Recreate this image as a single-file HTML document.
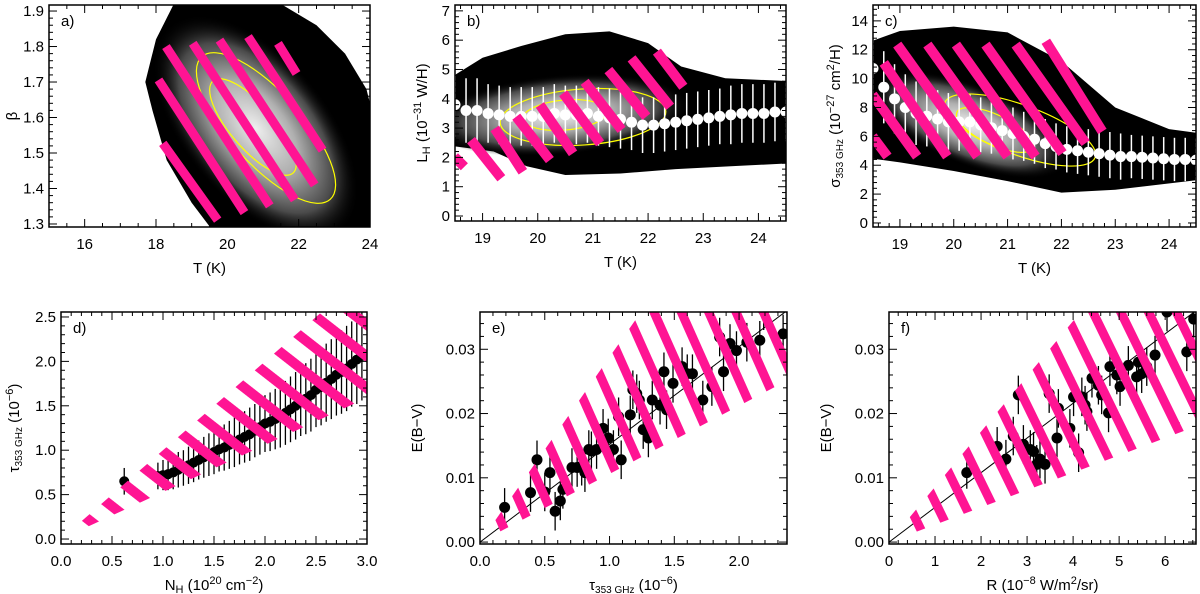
<!DOCTYPE html>
<html><head><meta charset="utf-8">
<style>
html,body{margin:0;padding:0;background:#fff;}
svg{display:block;font-family:"Liberation Sans",sans-serif;}
text{fill:#000;}
</style></head>
<body>
<svg id="fig" width="1200" height="594" viewBox="0 0 1200 594" xmlns="http://www.w3.org/2000/svg">
<defs>
  <radialGradient id="coreG">
    <stop offset="0" stop-color="#eeeeee"/>
    <stop offset="0.4" stop-color="#b0b0b0"/>
    <stop offset="0.75" stop-color="#4a4a4a"/>
    <stop offset="1" stop-color="#000" stop-opacity="0"/>
  </radialGradient>
  <pattern id="hatchD" patternUnits="userSpaceOnUse" width="25" height="25" patternTransform="rotate(38)"><rect x="0" y="0" width="25" height="10" fill="#ff1493"/></pattern>
  <pattern id="hatchE" patternUnits="userSpaceOnUse" width="25" height="25" patternTransform="rotate(66)"><rect x="0" y="0" width="25" height="9" fill="#ff1493"/></pattern>
  <pattern id="hatchF" patternUnits="userSpaceOnUse" width="25" height="25" patternTransform="rotate(64)"><rect x="0" y="0" width="25" height="9" fill="#ff1493"/></pattern>
</defs>
</svg>
<script>
// ---------- data ----------
const aStripes=[[18.19,1.527,19.73,1.311],[18.07,1.706,20.48,1.332],[18.28,1.80,21.19,1.351],[19.03,1.809,21.89,1.368],[19.78,1.818,22.45,1.41],[20.58,1.828,22.67,1.508],[21.42,1.809,21.94,1.724]];
const bT=[18.5,18.7,18.9,19.1,19.3,19.5,19.7,19.9,20.1,20.3,20.5,20.7,20.9,21.1,21.3,21.5,21.7,21.9,22.1,22.3,22.5,22.7,22.9,23.1,23.3,23.5,23.7,23.9,24.1,24.3,24.5];
const bL=[3.8,3.6,3.6,3.5,3.45,3.4,3.4,3.4,3.4,3.5,3.45,3.45,3.5,3.4,3.35,3.3,3.2,3.1,3.1,3.15,3.2,3.25,3.3,3.35,3.4,3.45,3.5,3.5,3.5,3.55,3.55];
const bErr=[1.1,1.1,1.1,1.0,1.0,1.0,1.0,1.0,1.0,1.0,1.0,1.0,1.0,1.0,1.0,1.0,0.95,0.95,0.95,0.95,0.95,0.95,0.95,0.95,0.95,1.0,1.0,1.0,1.0,1.0,1.0];
const bStripes=[[18.49,2.02,18.67,1.68],[18.79,2.59,19.34,1.29],[19.22,2.99,19.73,1.51],[19.61,3.39,20.22,1.91],[20.04,3.79,20.64,2.14],[20.46,4.19,21.13,2.48],[20.85,4.58,21.52,2.94],[21.28,4.98,21.97,3.39],[21.70,5.38,22.40,3.73],[22.16,5.61,22.64,4.41]];
const cT=bT;
const cS=[10.7,9.4,8.6,8.0,7.6,7.4,7.2,7.0,7.0,7.0,6.8,6.6,6.4,6.2,6.0,5.8,5.5,5.3,5.1,5.0,4.9,4.8,4.7,4.6,4.6,4.55,4.5,4.45,4.4,4.4,4.35];
const cErr=[2.5,2.5,2.4,2.3,2.2,2.1,2.0,2.0,2.0,1.9,1.9,1.8,1.8,1.8,1.7,1.7,1.7,1.6,1.6,1.6,1.6,1.6,1.6,1.6,1.5,1.5,1.5,1.5,1.5,1.5,1.5];
const cStripes=[[18.49,6.0,18.77,4.6],[18.49,8.89,19.32,4.6],[18.70,11.09,19.88,4.6],[18.95,12.36,20.44,4.6],[19.51,12.36,21.0,4.6],[20.04,12.36,21.52,4.6],[20.59,12.36,22.02,4.84],[21.15,12.36,22.45,5.53],[21.71,12.59,22.76,6.34]];
const dX=[0.62,0.95,1.0,1.05,1.1,1.15,1.2,1.25,1.3,1.35,1.4,1.45,1.5,1.55,1.6,1.65,1.7,1.75,1.8,1.85,1.9,1.95,2.0,2.05,2.1,2.15,2.2,2.25,2.3,2.35,2.4,2.45,2.5,2.55,2.6,2.65,2.7,2.75,2.8,2.85,2.9,2.95];
const dY=[0.65,0.71,0.72,0.73,0.75,0.78,0.80,0.83,0.86,0.89,0.92,0.95,0.98,1.01,1.03,1.06,1.09,1.12,1.15,1.18,1.22,1.26,1.30,1.32,1.35,1.38,1.42,1.46,1.50,1.54,1.58,1.62,1.68,1.71,1.76,1.80,1.85,1.88,1.92,1.97,2.02,2.06];
const dErr=[0.15,0.15,0.17,0.18,0.19,0.2,0.2,0.21,0.22,0.22,0.23,0.24,0.25,0.25,0.26,0.27,0.28,0.28,0.29,0.3,0.3,0.31,0.32,0.33,0.34,0.35,0.36,0.37,0.38,0.38,0.4,0.41,0.42,0.43,0.44,0.45,0.46,0.47,0.48,0.48,0.5,0.5];
const dBand=[0.13,1.0,0.53];
const eX=[0.19,0.39,0.44,0.50,0.54,0.58,0.62,0.64,0.71,0.75,0.785,0.81,0.84,0.86,0.90,0.95,0.99,1.03,1.07,1.09,1.16,1.18,1.21,1.23,1.26,1.30,1.33,1.39,1.42,1.44,1.49,1.56,1.60,1.64,1.72,1.79,1.85,1.88,1.93,1.98,2.06,2.16,2.19,2.34];
const eY=[0.0054,0.0077,0.0128,0.0078,0.0108,0.0048,0.0064,0.0082,0.0116,0.0116,0.0118,0.0108,0.0144,0.0142,0.0144,0.0177,0.0162,0.0144,0.0195,0.0128,0.0198,0.0237,0.0231,0.0221,0.0175,0.0162,0.0221,0.0213,0.0265,0.0206,0.0247,0.0273,0.0262,0.0262,0.0221,0.0242,0.0319,0.0265,0.0309,0.0298,0.0311,0.0314,0.036,0.0324];
const eErr=[0.003,0.003,0.003,0.003,0.003,0.003,0.003,0.003,0.003,0.003,0.003,0.003,0.003,0.003,0.003,0.003,0.003,0.003,0.003,0.003,0.003,0.003,0.003,0.003,0.003,0.003,0.003,0.003,0.003,0.003,0.003,0.003,0.003,0.003,0.003,0.003,0.003,0.003,0.003,0.003,0.003,0.003,0.003,0.003];
const eSlope=[0.0152];
const eBand=[0.1,0.0288,0.0106];
const fX=[1.69,2.35,2.54,2.70,2.81,2.92,3.07,3.14,3.21,3.28,3.39,3.48,3.65,3.68,3.93,4.01,4.12,4.19,4.26,4.30,4.41,4.55,4.62,4.77,4.80,4.95,5.02,5.20,5.38,5.42,5.49,5.60,5.78,6.04,6.47,6.62];
const fY=[0.0108,0.0149,0.0129,0.0165,0.0229,0.0152,0.0144,0.0141,0.0121,0.0129,0.0121,0.0231,0.0162,0.0208,0.0177,0.0226,0.0139,0.0226,0.0213,0.0203,0.0255,0.0244,0.0229,0.0201,0.0273,0.0260,0.0242,0.0275,0.0257,0.0280,0.0262,0.0273,0.0291,0.0358,0.0296,0.0347];
const fErr=[0.0025,0.003,0.003,0.003,0.003,0.003,0.003,0.003,0.003,0.003,0.003,0.003,0.003,0.003,0.003,0.003,0.003,0.003,0.003,0.003,0.003,0.003,0.003,0.003,0.003,0.003,0.003,0.003,0.003,0.003,0.003,0.003,0.003,0.003,0.003,0.003];
const fSlope=[0.0054];
const fBand=[0.3,0.0086,0.0027];

// ---------- helpers ----------
const NS='http://www.w3.org/2000/svg';
const svg=document.getElementById('fig');
function mk(tag,attrs,parent){const e=document.createElementNS(NS,tag);for(const k in attrs)e.setAttribute(k,attrs[k]);(parent||svg).appendChild(e);return e;}
function scale(d0,d1,p0,p1){return v=>p0+(v-d0)*(p1-p0)/(d1-d0);}

function panel(cfg){
  const g=mk('g',{});
  
  
  const X=scale(cfg.xr[0],cfg.xr[1],cfg.L,cfg.R), Y=scale(cfg.yr[0],cfg.yr[1],cfg.B,cfg.T);
  const cid='clip-'+cfg.id;
  const cp=mk('clipPath',{id:cid},g);mk('rect',{x:cfg.L,y:cfg.T,width:cfg.R-cfg.L,height:cfg.B-cfg.T},cp);
  const plot=mk('g',{'clip-path':'url(#'+cid+')'},g);
  
  
  cfg.draw(plot,X,Y);
  const fr=mk('rect',{x:cfg.L,y:cfg.T,width:cfg.R-cfg.L,height:cfg.B-cfg.T,fill:'none',stroke:'#000','stroke-width':1.5},g);
  
  
  const tg=mk('g',{stroke:'#000','stroke-width':1},g);
  const eps=1e-9;
  for(let v=cfg.xMinor[0];v<=cfg.xr[1]+eps;v+=cfg.xMinor[1]){
    const px=X(v);if(px<cfg.L-0.5||px>cfg.R+0.5)continue;
    const maj=cfg.xt.some(t=>Math.abs(t-v)<cfg.xMinor[1]/3);
    const len=maj?8:4;
    mk('line',{x1:px,y1:cfg.B,x2:px,y2:cfg.B-len},tg);mk('line',{x1:px,y1:cfg.T,x2:px,y2:cfg.T+len},tg);
  }
  for(let v=cfg.yMinor[0];v<=cfg.yr[1]+eps;v+=cfg.yMinor[1]){
    const py=Y(v);if(py<cfg.T-0.5||py>cfg.B+0.5)continue;
    const maj=cfg.yt.some(t=>Math.abs(t-v)<cfg.yMinor[1]/3);
    const len=maj?8:4;
    mk('line',{x1:cfg.L,y1:py,x2:cfg.L+len,y2:py},tg);mk('line',{x1:cfg.R,y1:py,x2:cfg.R-len,y2:py},tg);
  }
  cfg.xt.forEach((t,i)=>{const tx=mk('text',{x:X(t),y:cfg.B+22,'text-anchor':'middle','font-size':15},g);tx.textContent=cfg.xtl[i];
    
    });
  cfg.yt.forEach((t,i)=>{const tx=mk('text',{x:cfg.L-5,y:Y(t)+5,'text-anchor':'end','font-size':15},g);tx.textContent=cfg.ytl[i];
    
    });
  const xl=mk('text',{x:(cfg.L+cfg.R)/2,y:cfg.B+46,'text-anchor':'middle','font-size':15},g);xl.innerHTML=cfg.xlab;
  
  
  const yl=mk('text',{x:0,y:0,'text-anchor':'middle','font-size':15,transform:'translate('+(cfg.L-cfg.ylo)+','+((cfg.T+cfg.B)/2)+') rotate(-90)'},g);yl.innerHTML=cfg.ylab;
  
  
  const pl=mk('text',{x:cfg.L+12,y:cfg.T+21,'font-size':15},g);pl.textContent=cfg.id+')';
  
  
}
function poly(parent,pts,X,Y,attrs){return mk('polygon',Object.assign({points:pts.map(p=>X(p[0])+','+Y(p[1])).join(' ')},attrs),parent);}
function stripes(parent,arr,X,Y,w){arr.forEach(s=>{const l=mk('line',{x1:X(s[0]),y1:Y(s[1]),x2:X(s[2]),y2:Y(s[3]),stroke:'#ff1493','stroke-width':w},parent);
  
  });}
function core(parent,cx,cy,rx,ry,rot){mk('ellipse',{cx:0,cy:0,rx:rx,ry:ry,fill:'url(#coreG)',transform:'translate('+cx+','+cy+') rotate('+rot+')'},parent);}
function ycont(parent,cx,cy,rx,ry,rot){const e=mk('ellipse',{cx:0,cy:0,rx:rx,ry:ry,fill:'none',stroke:'#ffff00','stroke-width':1.2,transform:'translate('+cx+','+cy+') rotate('+rot+')'},parent);
  
  }
function wpoints(parent,xs,ys,es,X,Y){xs.forEach((x,i)=>{mk('line',{x1:X(x),x2:X(x),y1:Y(ys[i]-es[i]),y2:Y(ys[i]+es[i]),stroke:'#fff','stroke-width':1.5},parent);
  const c=mk('circle',{cx:X(x),cy:Y(ys[i]),r:5.5,fill:'#fff'},parent);
  
  });}
function bpoints(parent,xs,ys,es,X,Y,r){xs.forEach((x,i)=>{mk('line',{x1:X(x),x2:X(x),y1:Y(ys[i]-es[i]),y2:Y(ys[i]+es[i]),stroke:'#000','stroke-width':1.3},parent);
  const c=mk('circle',{cx:X(x),cy:Y(ys[i]),r:r,fill:'#000'},parent);
  
  });}
function band(parent,b,xmax,X,Y,pat){const pts=[[b[0],b[0]*b[2]],[b[0],b[0]*b[1]],[xmax,xmax*b[1]],[xmax,xmax*b[2]]];
  const p=poly(parent,pts,X,Y,{fill:'url(#'+pat+')'});
  
  }

// ---------- panels ----------
panel({id:'a',name:'panel-a-beta-vs-T',L:49,T:5,R:370,B:227,xr:[15,24],yr:[1.2915,1.917],
  xt:[16,18,20,22,24],xtl:['16','18','20','22','24'],xMinor:[15,0.5],
  yt:[1.3,1.4,1.5,1.6,1.7,1.8,1.9],ytl:['1.3','1.4','1.5','1.6','1.7','1.8','1.9'],yMinor:[1.3,0.02],
  xlab:'T (K)',ylab:'β',ylo:32,
  draw:(p,X,Y)=>{
    poly(p,[[18.0,1.82],[18.5,1.92],[21.5,1.92],[22.5,1.86],[23.3,1.78],[23.9,1.68],[24.1,1.6],[24.1,1.28],[19.6,1.28],[19.0,1.36],[18.3,1.48],[17.9,1.62],[17.7,1.7]],X,Y,{fill:'#000'});
    core(p,X(20.8),Y(1.57),135,72,50);
    ycont(p,266,128,96,36,48);ycont(p,253,127,61,22,49);
    stripes(p,aStripes,X,Y,9);
  }});
panel({id:'b',name:'panel-b-LH-vs-T',L:455,T:5,R:786,B:221,xr:[18.5,24.5],yr:[-0.17,7.2],
  xt:[19,20,21,22,23,24],xtl:['19','20','21','22','23','24'],xMinor:[18.6,0.2],
  yt:[0,1,2,3,4,5,6,7],ytl:['0','1','2','3','4','5','6','7'],yMinor:[0,0.2],
  xlab:'T (K)',ylab:'L<tspan baseline-shift="-3" font-size="11">H</tspan> (10<tspan baseline-shift="6" font-size="11">−31</tspan> W/H)',ylo:28,
  draw:(p,X,Y)=>{
    poly(p,[[18.4,4.7],[19.0,5.4],[19.7,5.8],[20.5,6.2],[21.3,6.3],[22.0,5.9],[22.6,5.1],[23.4,4.7],[24.6,4.6],[24.6,1.8],[23.5,1.7],[22.5,1.6],[21.5,1.45],[20.5,1.4],[19.8,1.7],[19.2,2.2],[18.4,2.4]],X,Y,{fill:'#000'});
    core(p,X(20.4),Y(3.45),130,40,-5);
    ycont(p,583,117,83,28,-4);ycont(p,565,115,42,15,-5);
    wpoints(p,bT,bL,bErr,X,Y);
    stripes(p,bStripes,X,Y,10);
  }});
panel({id:'c',name:'panel-c-sigma-vs-T',L:873,T:5,R:1196,B:227,xr:[18.5,24.5],yr:[-0.28,15.1],
  xt:[19,20,21,22,23,24],xtl:['19','20','21','22','23','24'],xMinor:[18.6,0.2],
  yt:[0,2,4,6,8,10,12,14],ytl:['0','2','4','6','8','10','12','14'],yMinor:[0,0.4],
  xlab:'T (K)',ylab:'σ<tspan baseline-shift="-3" font-size="10">353 GHz</tspan> (10<tspan baseline-shift="6" font-size="11">−27</tspan> cm<tspan baseline-shift="6" font-size="11">2</tspan>/H)',ylo:33,
  draw:(p,X,Y)=>{
    poly(p,[[18.4,12.5],[19.0,13.3],[20.0,13.6],[21.0,13.2],[22.0,11.2],[23.0,8.0],[24.0,6.5],[24.6,6.2],[24.6,3.0],[23.0,2.3],[22.0,2.1],[21.0,2.9],[20.0,3.6],[19.0,4.2],[18.4,4.5]],X,Y,{fill:'#000'});
    core(p,X(20.3),Y(6.8),105,40,22);
    ycont(p,1020,130,80,25,20);ycont(p,995,130,42,15,25);
    wpoints(p,cT,cS,cErr,X,Y);
    stripes(p,cStripes,X,Y,10);
  }});
panel({id:'d',name:'panel-d-tau-vs-NH',L:61,T:312,R:367,B:544,xr:[0,3],yr:[-0.056,2.556],
  xt:[0,0.5,1,1.5,2,2.5,3],xtl:['0.0','0.5','1.0','1.5','2.0','2.5','3.0'],xMinor:[0,0.1],
  yt:[0,0.5,1,1.5,2,2.5],ytl:['0.0','0.5','1.0','1.5','2.0','2.5'],yMinor:[0,0.1],
  xlab:'N<tspan baseline-shift="-3" font-size="11">H</tspan> (10<tspan baseline-shift="6" font-size="11">20</tspan> cm<tspan baseline-shift="6" font-size="11">−2</tspan>)',
  ylab:'τ<tspan baseline-shift="-3" font-size="10">353 GHz</tspan> (10<tspan baseline-shift="6" font-size="11">−6</tspan>)',ylo:42,
  draw:(p,X,Y)=>{
    bpoints(p,dX,dY,dErr,X,Y,5);
    band(p,dBand,3.2,X,Y,'hatchD');
  }});
panel({id:'e',name:'panel-e-EBV-vs-tau',L:480,T:312,R:787,B:544,xr:[0,2.37],yr:[-0.0003,0.0358],
  xt:[0,0.5,1,1.5,2],xtl:['0.0','0.5','1.0','1.5','2.0'],xMinor:[0,0.1],
  yt:[0,0.01,0.02,0.03],ytl:['0.00','0.01','0.02','0.03'],yMinor:[0,0.002],
  xlab:'τ<tspan baseline-shift="-3" font-size="10">353 GHz</tspan> (10<tspan baseline-shift="6" font-size="11">−6</tspan>)',
  ylab:'E(B−V)',ylo:58,
  draw:(p,X,Y)=>{
    const l=mk('line',{x1:X(0),y1:Y(0),x2:X(2.5),y2:Y(2.5*eSlope[0]),stroke:'#000','stroke-width':1},p);
    
    
    bpoints(p,eX,eY,eErr,X,Y,5.5);
    band(p,eBand,2.5,X,Y,'hatchE');
  }});
panel({id:'f',name:'panel-f-EBV-vs-R',L:889,T:312,R:1196,B:544,xr:[0,6.67],yr:[-0.0003,0.0358],
  xt:[0,1,2,3,4,5,6],xtl:['0','1','2','3','4','5','6'],xMinor:[0,0.2],
  yt:[0,0.01,0.02,0.03],ytl:['0.00','0.01','0.02','0.03'],yMinor:[0,0.002],
  xlab:'R (10<tspan baseline-shift="6" font-size="11">−8</tspan> W/m<tspan baseline-shift="6" font-size="11">2</tspan>/sr)',
  ylab:'E(B−V)',ylo:58,
  draw:(p,X,Y)=>{
    const l=mk('line',{x1:X(0),y1:Y(0),x2:X(7),y2:Y(7*fSlope[0]),stroke:'#000','stroke-width':1},p);
    
    
    bpoints(p,fX,fY,fErr,X,Y,5.5);
    band(p,fBand,7,X,Y,'hatchF');
  }});
</script>
</body></html>
